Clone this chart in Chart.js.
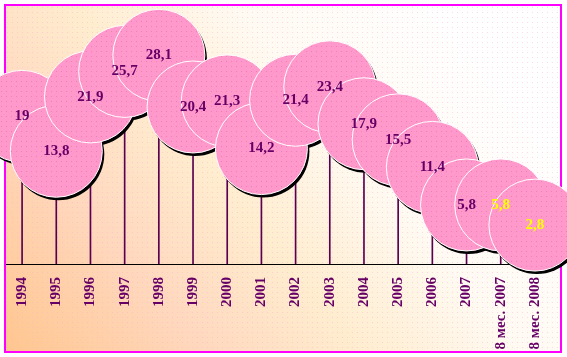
<!DOCTYPE html>
<html>
<head>
<meta charset="utf-8">
<script src="https://cdn.jsdelivr.net/npm/chart.js@4.4.1/dist/chart.umd.min.js"></script>
<style>
html,body{margin:0;padding:0;background:#fff;}
canvas{display:block;}
</style>
</head>
<body>
<canvas id="c" width="567" height="357"></canvas>
<script>
const categories = ['1994','1995','1996','1997','1998','1999','2000','2001','2002','2003','2004','2005','2006','2007','8 мес. 2007','8 мес. 2008'];
const values = [19, 13.8, 21.9, 25.7, 28.1, 20.4, 21.3, 14.2, 21.4, 23.4, 17.9, 15.5, 11.4, 5.8, 5.8, 2.8];
const labelColors = ['#660066','#660066','#660066','#660066','#660066','#660066','#660066','#660066','#660066','#660066','#660066','#660066','#660066','#660066','#FFFF00','#FFFF00'];
const yMin = -3, yMax = 35;
const bubbleRadius = 46;

function makePattern(base, dot, size){
  const c = document.createElement('canvas');
  c.width = size; c.height = size;
  const g = c.getContext('2d');
  g.fillStyle = base; g.fillRect(0,0,size,size);
  g.fillStyle = dot; g.fillRect(1,1,1,1);
  return g.createPattern(c,'repeat');
}
const ctx0 = document.getElementById('c').getContext('2d');
const pinkFill = makePattern('#FF99CC', '#EE7FB6', 5);

const bgPlugin = {
  id: 'bg',
  beforeDraw(chart){
    const ctx = chart.ctx;
    ctx.save();
    ctx.fillStyle = '#ffffff';
    ctx.fillRect(0,0,chart.width,chart.height);
    const g = ctx.createLinearGradient(5, 353, 430, 0);
    g.addColorStop(0, '#FFC68E');
    g.addColorStop(0.28, '#FFD8BE');
    g.addColorStop(0.5, '#FFEDCF');
    g.addColorStop(0.72, '#FFFAF2');
    g.addColorStop(1, '#FFFFFF');
    ctx.fillStyle = g;
    ctx.fillRect(5,5,556,347);
    ctx.fillStyle = 'rgba(255,170,200,0.45)';
    for (let y = 7; y < 351; y += 5) {
      for (let x = 7; x < 560; x += 5) {
        ctx.fillRect(x, y, 1, 1);
      }
    }
    ctx.restore();
  },
  beforeDatasetsDraw(chart){
    const ctx = chart.ctx;
    ctx.save();
    ctx.strokeStyle = '#FF00FF';
    ctx.lineWidth = 2;
    ctx.strokeRect(5,5,556,347);
    ctx.restore();
  }
};

const shadowPlugin = {
  id: 'shadowShift',
  beforeDatasetDraw(chart, args){
    if (args.index === 1) { chart.ctx.save(); chart.ctx.translate(2,3); }
  },
  afterDatasetDraw(chart, args){
    if (args.index === 1) { chart.ctx.restore(); }
  }
};

const labelPlugin = {
  id: 'bubbleLabels',
  afterDatasetsDraw(chart){
    const meta = chart.getDatasetMeta(2);
    const ctx = chart.ctx;
    ctx.save();
    ctx.font = 'bold 15px "Liberation Serif", "Times New Roman", serif';
    ctx.textAlign = 'center';
    ctx.textBaseline = 'middle';
    meta.data.forEach((el, i) => {
      ctx.fillStyle = labelColors[i];
      ctx.fillText(String(values[i]).replace('.', ','), el.x, el.y);
    });
    ctx.restore();
  }
};

new Chart(document.getElementById('c'), {
  type: 'line',
  data: {
    labels: categories,
    datasets: [
      {
        type: 'bar',
        data: values,
        base: yMin,
        barThickness: 1,
        backgroundColor: '#5a0050',
        order: 3
      },
      {
        data: values,
        showLine: false,
        pointRadius: bubbleRadius,
        pointBackgroundColor: '#000000',
        pointBorderWidth: 0,
        pointBorderColor: '#000000',
        clip: false,
        order: 2
      },
      {
        data: values,
        showLine: false,
        pointRadius: bubbleRadius,
        pointBackgroundColor: pinkFill,
        pointBorderColor: '#ffffff',
        pointBorderWidth: 1,
        clip: false,
        order: 1
      }
    ]
  },
  options: {
    responsive: false,
    animation: false,
    devicePixelRatio: 1,
    events: [],
    layout: { autoPadding: false, padding: { left: 5, right: 15, top: 9, bottom: 0 } },
    plugins: { legend: { display: false }, tooltip: { enabled: false } },
    scales: {
      x: {
        offset: true,
        grid: { display: false, drawTicks: false },
        border: { display: true, color: '#000000', width: 1 },
        ticks: {
          color: '#660066',
          font: { family: '"Liberation Serif", "Times New Roman", serif', size: 15, weight: 'bold' },
          minRotation: 90,
          maxRotation: 90,
          padding: 13,
          autoSkip: false
        },
        afterFit(s){ s.height = 93; }
      },
      y: {
        display: false,
        min: yMin,
        max: yMax
      }
    }
  },
  plugins: [bgPlugin, shadowPlugin, labelPlugin]
});
</script>
</body>
</html>
